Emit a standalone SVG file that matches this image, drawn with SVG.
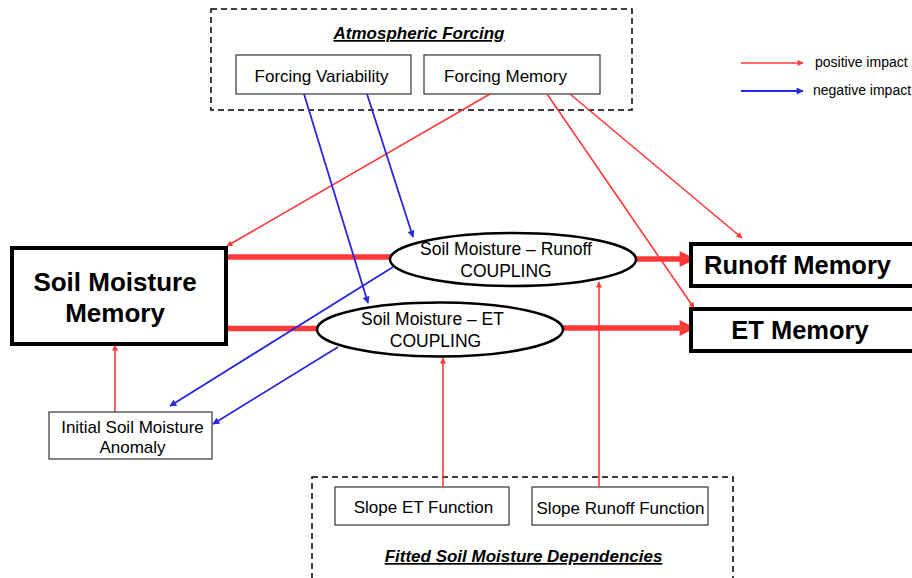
<svg xmlns="http://www.w3.org/2000/svg" width="912" height="578" viewBox="0 0 912 578">
<style>
text{font-family:"Liberation Sans",Arial,sans-serif;fill:#000}
.box{fill:#fff;stroke:#333;stroke-width:1.2}
.big{fill:#fff;stroke:#000;stroke-width:4}
.ell{fill:#fff;stroke:#000;stroke-width:2.5}
.dash{fill:none;stroke:#000;stroke-width:1.5;stroke-dasharray:6,4}
.r{stroke:#ff3838;stroke-width:1.6;fill:none}
.b{stroke:#2828dd;stroke-width:1.8;fill:none}
.rt{stroke:#ff3838;stroke-width:5.5;fill:none}
.t15{font-size:17px;text-anchor:middle}
.te{font-size:17.5px;text-anchor:middle}
.t24{font-size:25.5px;font-weight:bold;text-anchor:middle}
.hd{font-size:17px;font-weight:bold;font-style:italic;text-decoration:underline;text-anchor:middle}
.lg{font-size:14px}
</style>
<defs>
<marker id="ar" viewBox="0 0 10 10" refX="9" refY="5" markerWidth="7" markerHeight="6" orient="auto" markerUnits="userSpaceOnUse"><path d="M0,0L10,5L0,10z" fill="#ff3838"/></marker>
<marker id="ab" viewBox="0 0 10 10" refX="9" refY="5" markerWidth="8" markerHeight="7" orient="auto" markerUnits="userSpaceOnUse"><path d="M0,0L10,5L0,10z" fill="#2828dd"/></marker>
<marker id="art" viewBox="0 0 10 10" refX="9" refY="5" markerWidth="19" markerHeight="16" orient="auto" markerUnits="userSpaceOnUse"><path d="M0,0L10,5L0,10z" fill="#ff3838"/></marker>
</defs>

<g id="atmospheric-forcing">
<rect class="dash" x="211" y="9" width="421" height="101"/>
<text class="hd" x="419" y="39">Atmospheric Forcing</text>
</g>
<g id="forcing-variability">
<rect class="box" x="236" y="55" width="175" height="39"/>
<text class="t15" x="321.5" y="82">Forcing Variability</text>
</g>
<g id="forcing-memory">
<rect class="box" x="424" y="55" width="176" height="39"/>
<text class="t15" x="505.5" y="82">Forcing Memory</text>
</g>

<g id="fitted-dependencies">
<rect class="dash" x="312" y="477" width="421" height="110"/>
<text class="hd" x="523.5" y="562">Fitted Soil Moisture Dependencies</text>
</g>
<g id="slope-et">
<rect class="box" x="335" y="487" width="174" height="38"/>
<text class="t15" x="423.5" y="513">Slope ET Function</text>
</g>
<g id="slope-runoff">
<rect class="box" x="532" y="487" width="176" height="38"/>
<text class="t15" x="620.5" y="514">Slope Runoff Function</text>
</g>

<g id="connectors">
<line class="rt" x1="226" y1="257" x2="394" y2="257"/>
<line class="rt" x1="226" y1="328.5" x2="320" y2="328.5"/>
<line class="rt" x1="636" y1="259" x2="694" y2="259" marker-end="url(#art)"/>
<line class="rt" x1="563" y1="328" x2="694" y2="328" marker-end="url(#art)"/>
<line class="r" x1="115" y1="412" x2="115" y2="345" marker-end="url(#ar)"/>
<line class="r" x1="443" y1="487" x2="443" y2="358" marker-end="url(#ar)"/>
<line class="r" x1="599" y1="487" x2="599" y2="282" marker-end="url(#ar)"/>
<line class="r" x1="490" y1="94" x2="227" y2="246" marker-end="url(#ar)"/>
<line class="r" x1="547" y1="94" x2="694" y2="308" marker-end="url(#ar)"/>
<line class="r" x1="570" y1="94" x2="742" y2="238" marker-end="url(#ar)"/>
<line class="b" x1="304" y1="94" x2="368" y2="303" marker-end="url(#ab)"/>
<line class="b" x1="367" y1="94" x2="413" y2="237" marker-end="url(#ab)"/>
<line class="b" x1="393" y1="267" x2="170" y2="406" marker-end="url(#ab)"/>
<line class="b" x1="338" y1="347" x2="213" y2="424" marker-end="url(#ab)"/>
<line class="r" x1="741" y1="63" x2="803" y2="63" marker-end="url(#ar)"/>
<line class="b" x1="741" y1="91" x2="803" y2="91" marker-end="url(#ab)"/>
</g>

<g id="legend">
<text class="lg" x="815" y="67">positive impact</text>
<text class="lg" x="813" y="95">negative impact</text>
</g>

<g id="soil-moisture-memory">
<rect class="big" x="12" y="248" width="214" height="96"/>
<text class="t24" x="115" y="291" style="font-size:26px">Soil Moisture</text>
<text class="t24" x="115" y="322" style="font-size:26px">Memory</text>
</g>
<g id="runoff-coupling">
<ellipse class="ell" cx="513" cy="259.5" rx="123" ry="26.5"/>
<text class="te" x="506" y="255">Soil Moisture – Runoff</text>
<text class="te" x="506" y="277">COUPLING</text>
</g>
<g id="et-coupling">
<ellipse class="ell" cx="440" cy="329.5" rx="123" ry="27"/>
<text class="te" x="432.5" y="325">Soil Moisture – ET</text>
<text class="te" x="435.5" y="347">COUPLING</text>
</g>
<g id="runoff-memory">
<rect class="big" x="691" y="244" width="225" height="42"/>
<text class="t24" x="797.5" y="274">Runoff Memory</text>
</g>
<g id="et-memory">
<rect class="big" x="691" y="309" width="225" height="42"/>
<text class="t24" x="800" y="339">ET Memory</text>
</g>
<g id="initial-anomaly">
<rect class="box" x="49" y="412" width="163" height="47"/>
<text class="t15" x="132.5" y="433">Initial Soil Moisture</text>
<text class="t15" x="132.5" y="453">Anomaly</text>
</g>
</svg>
